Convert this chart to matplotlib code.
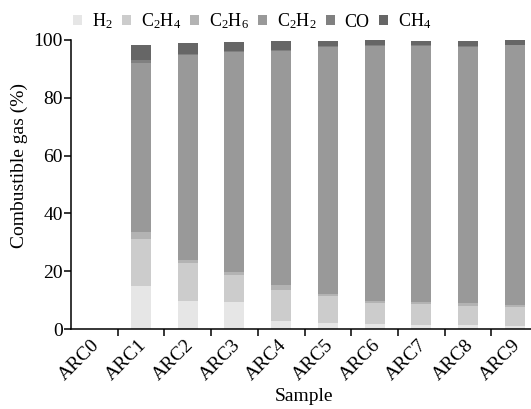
import numpy as np
import matplotlib
matplotlib.use("Agg")
import matplotlib.pyplot as plt
from matplotlib.transforms import ScaledTranslation

plt.rcParams['font.family'] = ['Liberation Serif', 'DejaVu Serif']
plt.rcParams['mathtext.fontset'] = 'custom'
plt.rcParams['mathtext.rm'] = 'Liberation Serif'
plt.rcParams['mathtext.it'] = 'Liberation Serif'

# Datos (%)
samples = ['ARC0', 'ARC1', 'ARC2', 'ARC3', 'ARC4', 'ARC5', 'ARC6', 'ARC7', 'ARC8', 'ARC9']
h2 = [0, 15.0, 9.6, 9.2, 2.6, 2.2, 1.8, 1.5, 1.5, 1.1]
c2h4 = [0, 16.2, 13.2, 9.5, 11.0, 9.1, 7.1, 7.1, 6.6, 6.4]
c2h6 = [0, 2.2, 1.2, 0.9, 1.7, 0.8, 0.9, 0.7, 0.8, 0.9]
c2h2 = [0, 58.7, 70.8, 76.4, 81.0, 85.4, 88.2, 88.6, 88.7, 89.7]
co = [0, 1.1, 0.4, 0.3, 0.3, 0.3, 0.3, 0.3, 0.3, 0.3]
ch4 = [0, 5.2, 3.6, 3.0, 2.9, 2.0, 1.6, 1.6, 1.8, 1.6]

series = [h2, c2h4, c2h6, c2h2, co, ch4]
labels = ['H$_2$', 'C$_2$H$_4$', 'C$_2$H$_6$', 'C$_2$H$_2$', 'CO', 'CH$_4$']
colors = ['#e6e6e6', '#cccccc', '#b3b3b3', '#999999', '#808080', '#666666']

fig = plt.figure(figsize=(5.31, 4.09), dpi=100)
ax = fig.add_axes([71 / 531, 80 / 409, 467 / 531, 289 / 409])

x = np.arange(len(samples))
bottom = np.zeros(len(samples))
for vals, lab, col in zip(series, labels, colors):
    ax.bar(x, vals, width=0.43, bottom=bottom, color=col, label=lab, linewidth=0)
    bottom += np.array(vals)

ax.set_xlim(-0.5, 9.5)
ax.set_ylim(0, 100)
ax.set_yticks([0, 20, 40, 60, 80, 100])
ax.tick_params(axis='y', labelsize=14, length=5, width=1.1, pad=1)

ax.set_xticks(x)
ax.set_xticklabels(samples, rotation=45, ha='right', va='center', rotation_mode='anchor')
ax.set_xticks(x[:-1] + 0.5, minor=True)
ax.tick_params(axis='x', which='major', length=0, labelsize=14, pad=10)
ax.tick_params(axis='x', which='minor', length=5, width=1.1)
offset = ScaledTranslation(3 / 100, 0, fig.dpi_scale_trans)
for t in ax.get_xticklabels():
    t.set_transform(t.get_transform() + offset)

for s in ['top', 'right']:
    ax.spines[s].set_visible(False)
for s in ['left', 'bottom']:
    ax.spines[s].set_linewidth(1.1)

ax.set_ylabel('Combustible gas (%)', fontsize=14)
ax.yaxis.set_label_coords(-0.092, 0.565)
ax.set_xlabel('Sample', fontsize=14, labelpad=3)

ax.legend(loc='lower left', bbox_to_anchor=(0.005, 1.03), ncol=6, frameon=False,
          fontsize=13, handlelength=0.5, handleheight=0.5, handletextpad=0.55,
          columnspacing=0.5, borderaxespad=0, borderpad=0)

fig.savefig('out.png', dpi=100)
